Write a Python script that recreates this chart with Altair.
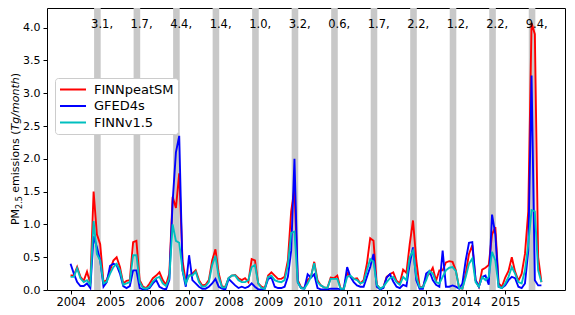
import altair as alt
import pandas as pd

years = list(range(2004, 2016))
series_names = ["FINNpeatSM", "GFED4s", "FINNv1.5"]
series_colors = ["#ff0000", "#0000ff", "#00bfbf"]

# monthly emissions Jan 2004 .. Dec 2015 (Tg/month)
finn_peat = [
    0.22, 0.22, 0.35, 0.20, 0.14, 0.28, 0.10, 1.50, 0.85, 0.70, 0.12, 0.15,
    0.30, 0.45, 0.50, 0.35, 0.10, 0.14, 0.15, 0.73, 0.75, 0.15, 0.05, 0.03,
    0.10, 0.18, 0.22, 0.27, 0.15, 0.08, 0.25, 1.42, 1.25, 1.78, 0.45, 0.12,
    0.22, 0.25, 0.30, 0.15, 0.07, 0.08, 0.15, 0.45, 0.62, 0.25, 0.05, 0.05,
    0.18, 0.22, 0.23, 0.18, 0.15, 0.18, 0.12, 0.47, 0.45, 0.10, 0.05, 0.03,
    0.22, 0.27, 0.22, 0.17, 0.17, 0.20, 0.45, 1.20, 1.55, 0.15, 0.04, 0.03,
    0.15, 0.20, 0.43, 0.15, 0.07, 0.04, 0.03, 0.19, 0.18, 0.22, 0.02, 0.02,
    0.26, 0.20, 0.17, 0.18, 0.10, 0.15, 0.40, 0.79, 0.75, 0.08, 0.02, 0.04,
    0.20, 0.24, 0.27, 0.14, 0.10, 0.31, 0.26, 0.70, 1.06, 0.45, 0.05, 0.04,
    0.20, 0.25, 0.34, 0.14, 0.30, 0.30, 0.42, 0.44, 0.43, 0.30, 0.03, 0.02,
    0.25, 0.55, 0.68, 0.15, 0.05, 0.31, 0.34, 0.38, 0.85, 0.96, 0.10, 0.05,
    0.19, 0.29, 0.50, 0.28, 0.14, 0.25, 0.55, 1.20, 4.07, 3.90, 0.50, 0.12,
]
gfed4s = [
    0.40, 0.25, 0.12, 0.06, 0.06, 0.10, 0.03, 0.82, 0.65, 0.45, 0.05, 0.12,
    0.37, 0.40, 0.38, 0.25, 0.06, 0.03, 0.06, 0.30, 0.30, 0.03, 0.01, 0.01,
    0.03, 0.10, 0.15, 0.05, 0.02, 0.01, 0.15, 1.35, 2.10, 2.35, 0.30, 0.05,
    0.53, 0.15, 0.10, 0.05, 0.02, 0.02, 0.05, 0.10, 0.17, 0.05, 0.02, 0.01,
    0.17, 0.12, 0.07, 0.03, 0.05, 0.03, 0.05, 0.10, 0.05, 0.01, 0.01, 0.02,
    0.17, 0.19, 0.05, 0.03, 0.03, 0.05, 0.20, 0.60, 2.00, 0.12, 0.03, 0.02,
    0.24, 0.19, 0.24, 0.03, 0.01, 0.01, 0.01, 0.02, 0.02, 0.02, 0.01, 0.02,
    0.35, 0.20, 0.12, 0.07, 0.05, 0.05, 0.20, 0.35, 0.55, 0.05, 0.01, 0.03,
    0.19, 0.24, 0.13, 0.05, 0.03, 0.08, 0.06, 0.40, 0.65, 0.15, 0.02, 0.02,
    0.25, 0.29, 0.15, 0.08, 0.05, 0.60, 0.05, 0.05, 0.07, 0.05, 0.02, 0.10,
    0.45, 0.72, 0.73, 0.15, 0.05, 0.20, 0.22, 0.08, 1.15, 0.85, 0.05, 0.03,
    0.07, 0.15, 0.20, 0.18, 0.05, 0.03, 0.10, 0.60, 3.27, 0.15, 0.07, 0.07,
]
finn_v15 = [
    0.20, 0.20, 0.33, 0.18, 0.12, 0.15, 0.08, 1.05, 0.55, 0.45, 0.10, 0.13,
    0.25, 0.35, 0.40, 0.30, 0.08, 0.10, 0.12, 0.53, 0.53, 0.12, 0.03, 0.02,
    0.05, 0.13, 0.18, 0.20, 0.10, 0.06, 0.18, 1.00, 0.75, 0.72, 0.30, 0.10,
    0.22, 0.22, 0.28, 0.12, 0.05, 0.06, 0.12, 0.38, 0.52, 0.20, 0.04, 0.04,
    0.18, 0.22, 0.22, 0.15, 0.12, 0.12, 0.15, 0.35, 0.38, 0.10, 0.03, 0.02,
    0.20, 0.22, 0.15, 0.13, 0.12, 0.15, 0.38, 0.87, 0.89, 0.12, 0.03, 0.02,
    0.10, 0.20, 0.41, 0.12, 0.07, 0.04, 0.03, 0.17, 0.17, 0.17, 0.02, 0.02,
    0.20, 0.22, 0.17, 0.15, 0.10, 0.12, 0.30, 0.47, 0.43, 0.08, 0.02, 0.05,
    0.12, 0.18, 0.20, 0.12, 0.08, 0.20, 0.15, 0.50, 0.60, 0.20, 0.04, 0.04,
    0.15, 0.29, 0.25, 0.12, 0.10, 0.20, 0.30, 0.34, 0.35, 0.29, 0.03, 0.02,
    0.20, 0.40, 0.48, 0.12, 0.05, 0.20, 0.15, 0.20, 0.58, 0.45, 0.05, 0.03,
    0.10, 0.20, 0.35, 0.25, 0.12, 0.10, 0.30, 0.70, 1.22, 1.20, 0.30, 0.12,
]
annot_labels = ["3.1,", "1.7,", "4.4,", "1.4,", "1.0,", "3.2,",
                "0.6,", "1.7,", "2.2,", "1.2,", "2.2,", "9.4,"]
x_ticks = years
y_ticks = [0.0, 0.5, 1.0, 1.5, 2.0, 2.5, 3.0, 3.5, 4.0]

# y-axis title pieces: PM_{2.5} emissions (Tg/month) with italic units
title_parts = ["PM", "2.5", "emissions (", "Tg/month", ")"]

W, H = 518, 282

rows = []
for name, vals in zip(series_names, [finn_peat, gfed4s, finn_v15]):
    for k, v in enumerate(vals):
        rows.append({"series": name, "t": 2004 + k / 12.0, "v": v})
df = pd.DataFrame(rows)

bands = pd.DataFrame({"x0": [y + 7.15 / 12 for y in years],
                      "x1": [y + 9.15 / 12 for y in years]})
ann = pd.DataFrame({"x": [y + 0.52 for y in years],
                    "y": [4.0] * len(years),
                    "label": annot_labels})

xscale = alt.Scale(domain=[2003.404, 2016.513], nice=False, zero=False)
yscale = alt.Scale(domain=[0, 4.3], nice=False, zero=False)
cscale = alt.Scale(domain=series_names, range=series_colors)

xaxis = alt.Axis(values=x_ticks, format="d", title=None, grid=False,
                 labelFontSize=11.5, tickSize=4, labelPadding=2,
                 tickColor="black", labelColor="black", domain=False,
                 labelFlush=False)
yaxis = alt.Axis(values=y_ticks, format=".1f", grid=False, title=None,
                 labelFontSize=11, tickSize=4, labelPadding=3,
                 tickColor="black", labelColor="black", domain=False)

legend = alt.Legend(title=None, orient="none", legendX=8, legendY=70,
                    symbolType="stroke", symbolSize=676, symbolStrokeWidth=2,
                    labelFontSize=13, labelColor="black", labelOffset=7,
                    clipHeight=15, rowPadding=1.5, padding=4,
                    strokeColor="#cccccc", fillColor="white", cornerRadius=3)

band_layer = alt.Chart(bands).mark_rect(color="#c8c8c8").encode(
    x=alt.X("x0:Q", scale=xscale, axis=xaxis),
    x2="x1:Q",
    y=alt.value(0),
    y2=alt.value(H),
)

line_layers = []
for name in series_names:
    line_layers.append(
        alt.Chart(df).transform_filter(alt.datum.series == name)
        .mark_line(strokeWidth=1.9)
        .encode(
            x=alt.X("t:Q", scale=xscale, axis=xaxis),
            y=alt.Y("v:Q", scale=yscale, axis=yaxis),
            color=alt.Color("series:N", scale=cscale, legend=legend),
        )
    )

text_layer = alt.Chart(ann).mark_text(
    align="left", baseline="alphabetic", fontSize=11.5, color="black"
).encode(
    x=alt.X("x:Q", scale=xscale, axis=xaxis),
    y=alt.Y("y:Q", scale=yscale, axis=yaxis),
    text="label:N",
)

# rotated y-axis title assembled from pieces (layout in pixels)
fs, fs_sub = 11, 8
em = {"PM": 1.466, "2.5": 1.59, "emissions (": 5.662, "Tg/month": 4.829, ")": 0.39}
widths = [em["PM"] * fs, em["2.5"] * fs_sub, em["emissions ("] * fs + 0.318 * fs,
          em["Tg/month"] * fs, em[")"] * fs]
total = sum(widths)
start = H / 2 + total / 2
title_layers = []
pos = start
styles = [("normal", fs, -28), ("normal", fs_sub, -25), ("normal", fs, -28),
          ("italic", fs, -28), ("normal", fs, -28)]
for i, (part, (style, size, bx)) in enumerate(zip(title_parts, styles)):
    ypos = pos
    if part == "emissions (":
        ypos = pos - 0.318 * fs
    title_layers.append(
        alt.Chart(pd.DataFrame({"s": [part]})).mark_text(
            align="left", baseline="alphabetic", angle=270,
            fontSize=size, fontStyle=style, color="black"
        ).encode(x=alt.value(bx), y=alt.value(ypos), text="s:N")
    )
    pos -= widths[i]

chart = alt.layer(band_layer, *line_layers, text_layer, *title_layers).properties(
    width=W, height=H,
    autosize=alt.AutoSizeParams(type="none"),
    padding={"left": 39, "top": 0, "right": 2, "bottom": 17},
).configure(
    font="DejaVu Sans",
).configure_view(
    stroke="black", strokeWidth=1,
)

chart.save("out.html", embed_options={"renderer": "svg", "actions": False})
